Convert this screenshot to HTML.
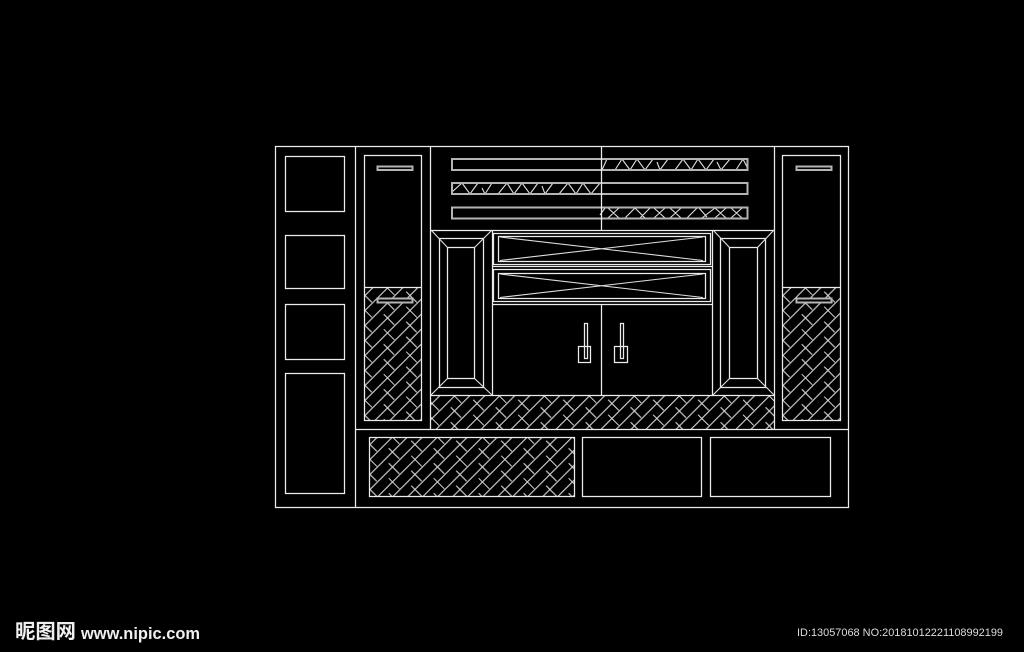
<!DOCTYPE html>
<html lang="zh">
<head>
<meta charset="utf-8">
<title>Cabinet elevation</title>
<style>
html,body{margin:0;padding:0;background:#000;width:1024px;height:652px;overflow:hidden}
svg{display:block}
.l{fill:none;stroke:#ececec;stroke-width:1.25}
.t{fill:none;stroke:#b4b4b4;stroke-width:2;shape-rendering:crispEdges}
.d{fill:none;stroke:#e0e0e0;stroke-width:1.1}
.h{stroke:#d8d8d8;stroke-width:1.1;fill:none}
</style>
</head>
<body>
<svg width="1024" height="652" viewBox="0 0 1024 652" xmlns="http://www.w3.org/2000/svg">
<defs>
<pattern id="hatch" width="31.8" height="31.8" patternUnits="userSpaceOnUse" patternTransform="translate(370 437) rotate(45)">
<path class="h" d="M5.3 0V31.8M15.9 0V31.8M26.5 0V31.8M0 5.3H15M10.6 15.9H25.6M21.2 26.5H31.8M0 26.5H4.2"/>
</pattern>
<pattern id="hatch2" width="31.8" height="31.8" patternUnits="userSpaceOnUse" patternTransform="translate(432 396) rotate(45)">
<path class="h" d="M5.3 0V31.8M15.9 0V31.8M26.5 0V31.8M0 5.3H15M10.6 15.9H25.6M21.2 26.5H31.8M0 26.5H4.2"/>
</pattern>
<pattern id="hatch3" width="31.8" height="31.8" patternUnits="userSpaceOnUse" patternTransform="translate(365 288) rotate(45)">
<path class="h" d="M5.3 0V31.8M15.9 0V31.8M26.5 0V31.8M0 5.3H15M10.6 15.9H25.6M21.2 26.5H31.8M0 26.5H4.2"/>
</pattern>
<pattern id="hatch4" width="31.8" height="31.8" patternUnits="userSpaceOnUse" patternTransform="translate(783 288) rotate(45)">
<path class="h" d="M5.3 0V31.8M15.9 0V31.8M26.5 0V31.8M0 5.3H15M10.6 15.9H25.6M21.2 26.5H31.8M0 26.5H4.2"/>
</pattern>
</defs>
<rect width="1024" height="652" fill="#000"/>

<!-- hatch fills -->
<rect x="365" y="288" width="56" height="132" fill="url(#hatch3)"/>
<rect x="783" y="288" width="57" height="132" fill="url(#hatch4)"/>
<rect x="431" y="396" width="343" height="33" fill="url(#hatch2)"/>
<rect x="370" y="437" width="205" height="59" fill="url(#hatch)"/>

<!-- stripe zigzags -->
<path class="d" d="M452 192L462 183L470 194L478 183M482 188L485 194L492 183M498 194L507 183L514 194L522 183L530 194L538 183M542 186L545 194L553 183M559 194L568 183L576 194L583 183L591 194L600 183"/>
<path class="d" d="M602 170L607 159M615 170L622 159L630 170L637 159L645 170L653 159M657 162L660 170L668 159M675 170L683 159L691 170L698 159L706 170L714 159M717 162L721 170L730 159M736 170L743 159L747 167"/>
<path class="d" d="M600 215L605 208M608 208L619 218M608 218L619 208M625 218L635 208M635 208L645 218M640 218L650 208M654 208L665 218M654 218L665 208M670 208L681 218M670 218L681 208M687 218L697 208M699 208L707 217M702 218L715 208M715 208L726 218M715 218L726 208M731 208L742 218M731 218L742 208"/>

<g class="l">
<!-- outer frame and major dividers -->
<rect x="275.5" y="146.5" width="573" height="361"/>
<path d="M355.5 146.5V507.5M430.5 146.5V429.5M774.5 146.5V429.5M601.5 304.5V395.5M355.5 429.5H848.5M430.5 230.5H774.5M430.5 395.5H774.5M492.5 230.5V395.5M712.5 230.5V395.5"/>

<!-- left column panels -->
<rect x="285.5" y="156.5" width="59" height="55"/>
<rect x="285.5" y="235.5" width="59" height="53"/>
<rect x="285.5" y="304.5" width="59" height="55"/>
<rect x="285.5" y="373.5" width="59" height="120"/>

<!-- tall cabinets -->
<rect x="364.5" y="155.5" width="57" height="265"/>
<path d="M364.5 287.5H421.5"/>
<rect x="782.5" y="155.5" width="58" height="265"/>
<path d="M782.5 287.5H840.5"/>

<!-- side frames -->
<rect x="439.5" y="238.5" width="44" height="149"/>
<rect x="447.5" y="247.5" width="27" height="131"/>
<rect x="720.5" y="238.5" width="45" height="149"/>
<rect x="729.5" y="247.5" width="28" height="131"/>

<!-- drawers -->
<rect x="493.5" y="233.5" width="217" height="31"/>
<rect x="498.5" y="236.5" width="207" height="25"/>
<rect x="493.5" y="269.5" width="217" height="32"/>
<rect x="498.5" y="273.5" width="207" height="25"/>
<path d="M492.5 266.5H712.5M492.5 304.5H712.5"/>

<!-- door handles -->
<rect x="584.5" y="323.5" width="3" height="35"/>
<rect x="578.5" y="346.5" width="12" height="16"/>
<rect x="620.5" y="323.5" width="3" height="35"/>
<rect x="614.5" y="346.5" width="13" height="16"/>

<!-- lower boxes -->
<rect x="369.5" y="437.5" width="205" height="59"/>
<rect x="582.5" y="437.5" width="119" height="59"/>
<rect x="710.5" y="437.5" width="120" height="59"/>
</g>

<!-- cabinet handles and stripes -->
<g class="t">
<rect x="377.5" y="166.5" width="35" height="3.5" fill="#000"/>
<rect x="377.5" y="298.5" width="35" height="4" fill="#000"/>
<rect x="796.5" y="166.5" width="35" height="3.5" fill="#000"/>
<rect x="796.5" y="298.5" width="35" height="4" fill="#000"/>
<rect x="452" y="159" width="295.5" height="11"/>
<rect x="452" y="183" width="295.5" height="11"/>
<rect x="452" y="207.5" width="295.5" height="11"/>
</g>
<path class="l" d="M601.5 146.5V230.5"/>

<!-- miters and drawer crosses -->
<g class="d">
<path d="M431 230L447.5 247.5M492 230L474.5 247.5M431 395L447.5 378.5M492 395L474.5 378.5"/>
<path d="M713 230L729.5 247.5M774 230L757.5 247.5M713 395L729.5 378.5M774 395L757.5 378.5"/>
<path d="M500 237L703 260.5M500 260.5L703 237"/>
<path d="M500 274L703 297.5M500 297.5L703 274"/>
</g>

<!-- watermark -->
<text x="15" y="638" font-family="'Liberation Sans','Noto Sans CJK SC',sans-serif" font-size="20" font-weight="700" fill="#f0f0f0" textLength="61" lengthAdjust="spacingAndGlyphs">昵图网</text>
<text x="81" y="639" font-family="'Liberation Sans',sans-serif" font-size="17" font-weight="700" fill="#f0f0f0" textLength="119" lengthAdjust="spacingAndGlyphs">www.nipic.com</text>
<text x="797" y="636" font-family="'Liberation Sans',sans-serif" font-size="11" fill="#dcdcdc" textLength="206" lengthAdjust="spacingAndGlyphs">ID:13057068 NO:20181012221108992199</text>
</svg>
</body>
</html>
